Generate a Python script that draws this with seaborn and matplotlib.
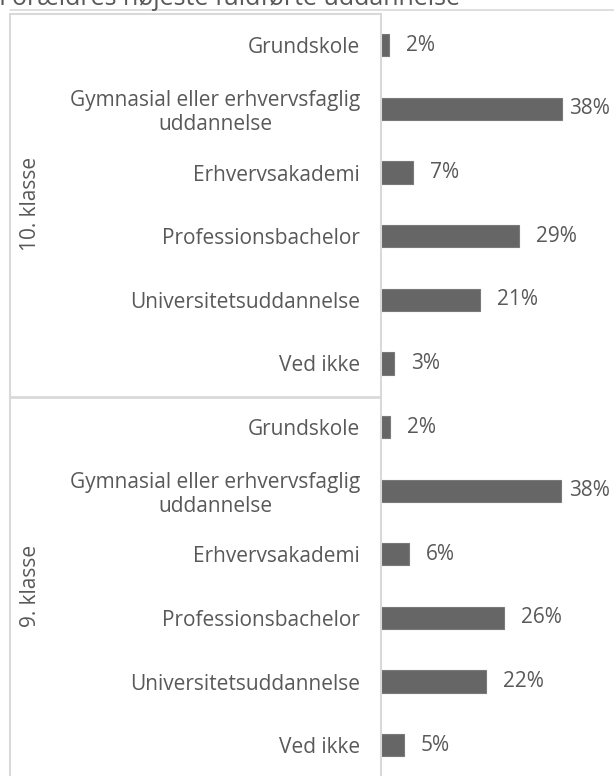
import matplotlib
matplotlib.use("Agg")
import matplotlib.pyplot as plt
import seaborn as sns
import pandas as pd
from matplotlib.lines import Line2D

groups = ["10. klasse", "9. klasse"]
categories = ["Grundskole", "Gymnasial eller erhvervsfaglig\nuddannelse", "Erhvervsakademi",
              "Professionsbachelor", "Universitetsuddannelse", "Ved ikke"]
values_10 = [1.6, 38.0, 6.8, 28.9, 20.7, 2.8]
values_9 = [1.9, 37.9, 5.9, 25.9, 22.1, 4.8]
labels_10 = ["2%", "38%", "7%", "29%", "21%", "3%"]
labels_9 = ["2%", "38%", "6%", "26%", "22%", "5%"]
title = "Forældres højeste fuldførte uddannelse"

rows, vals, labs, cats = [], [], [], []
for g, vs, ls in [(groups[0], values_10, labels_10), (groups[1], values_9, labels_9)]:
    for c, v, l in zip(categories, vs, ls):
        rows.append(g + "|" + c)
        vals.append(v)
        labs.append(l)
        cats.append(c)
df = pd.DataFrame({"row": rows, "value": vals})

sns.set_theme(style="white")
plt.rcParams["font.family"] = ["Open Sans", "DejaVu Sans"]
TXT = "#595959"
GRID = "#d9d9d9"
FS = 15

W, H = 614, 776
fig = plt.figure(figsize=(W / 100, H / 100), dpi=100)
ax_left, ax_top, ax_bottom = 381, 13.5, 777
ax = fig.add_axes([ax_left / W, (H - ax_bottom) / H, (W - ax_left) / W, (ax_bottom - ax_top) / H])

sns.barplot(data=df, x="value", y="row", ax=ax, color="#666666", width=0.35,
            edgecolor="#7a7a7a", linewidth=0.8, saturation=1)

px_per_unit = 4.76
ax.set_xlim(0, (W - ax_left) / px_per_unit)
ax.set_ylim(len(rows) - 0.5, -0.5)
ax.set_xlabel("")
ax.set_ylabel("")
ax.set_xticks([])
ax.set_yticks(range(len(rows)))
ax.set_yticklabels(cats, multialignment="center", linespacing=1.15)
ax.tick_params(axis="y", length=0, pad=15, labelsize=FS, labelcolor=TXT)
for s in ["top", "right", "bottom"]:
    ax.spines[s].set_visible(False)
ax.spines["left"].set_color(GRID)
ax.spines["left"].set_linewidth(1.5)

xmax_text = (569 - ax_left) / px_per_unit
for i, (v, l) in enumerate(zip(vals, labs)):
    xt = min(v + 17 / px_per_unit, xmax_text)
    ax.text(xt, i, l, ha="left", va="center", fontsize=FS, color=TXT)

# table frame
def fl(x0, y0, x1, y1, lw=1.5, c=GRID):
    fig.add_artist(Line2D([x0 / W, x1 / W], [1 - y0 / H, 1 - y1 / H], color=c, lw=lw,
                          transform=fig.transFigure))

fl(10, 9.5, W, 9.5, lw=1.2)
fl(10, 13.5, 380, 13.5)
fl(10, 13.5, 10, H)
fl(10, 397, 380, 397, lw=2)

# group labels
for gi, g in enumerate(groups):
    yc = ax_top + (gi * 6 + 3) * (ax_bottom - ax_top) / 12
    fig.text(30 / W, 1 - yc / H, g, rotation=90, ha="center", va="center",
             fontsize=FS, color=TXT)

fig.text(-1 / W, 1 - 5 / H, title, ha="left", va="baseline", fontsize=18, color=TXT)

fig.savefig("out.png", dpi=100)
